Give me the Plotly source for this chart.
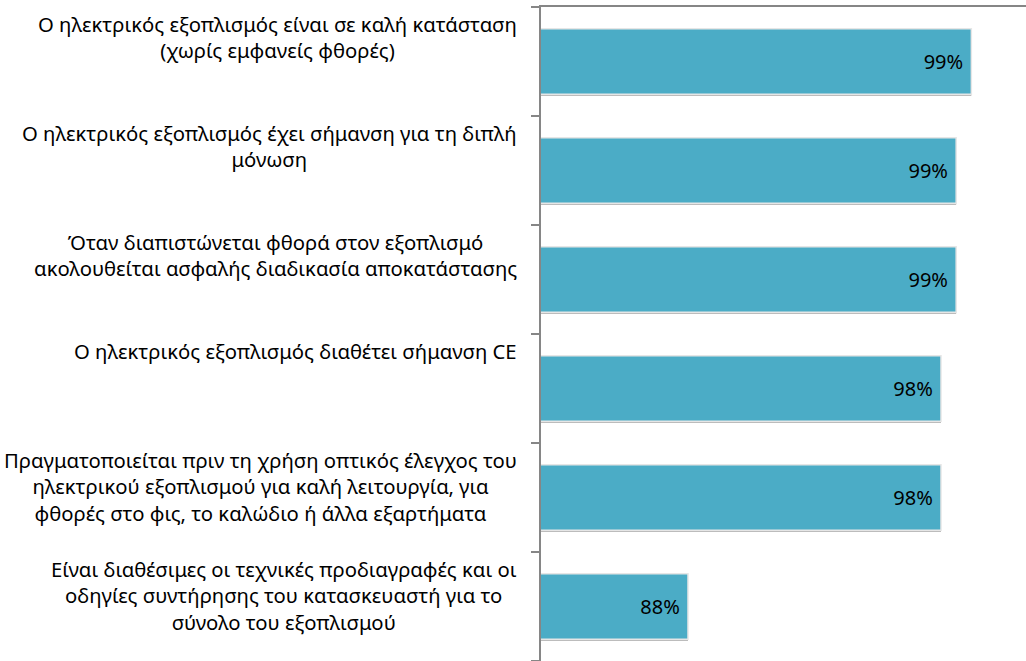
import plotly.graph_objects as go

categories = [
    "Ο ηλεκτρικός εξοπλισμός είναι σε καλή κατάσταση<br>(χωρίς εμφανείς φθορές)",
    "Ο ηλεκτρικός εξοπλισμός έχει σήμανση για τη διπλή<br>μόνωση",
    "Όταν διαπιστώνεται φθορά στον εξοπλισμό<br>ακολουθείται ασφαλής διαδικασία αποκατάστασης",
    "Ο ηλεκτρικός εξοπλισμός διαθέτει σήμανση CE",
    "Πραγματοποιείται πριν τη χρήση οπτικός έλεγχος του<br>ηλεκτρικού εξοπλισμού για καλή λειτουργία, για<br>φθορές στο φις, το καλώδιο ή άλλα εξαρτήματα",
    "Είναι διαθέσιμες οι τεχνικές προδιαγραφές και οι<br>οδηγίες συντήρησης του κατασκευαστή για το<br>σύνολο του εξοπλισμού",
]
values = [99.2, 98.6, 98.6, 98.0, 98.0, 88.0]
positions = list(range(len(categories)))

BAR = "#4BACC6"
AXIS = "#868686"
FONT = "Noto Sans"

fig = go.Figure()

# shadow under each bar
fig.add_trace(go.Bar(
    x=values, y=positions, orientation="h",
    marker=dict(color="#a6a6a6", line=dict(width=0)),
    width=0.6, offset=-0.285,
    hoverinfo="skip", showlegend=False,
))
fig.add_trace(go.Bar(
    x=values, y=positions, orientation="h",
    marker=dict(color=BAR, line=dict(color="#e6e6e6", width=1.5)),
    width=0.6, offset=-0.3,
    texttemplate="%{x:.0f}%\u00a0", textposition="inside", insidetextanchor="end",
    textangle=0, constraintext="none",
    textfont=dict(family=FONT, size=20, color="black"),
    showlegend=False,
))

# category labels sit at the top of each band
for pos, label in zip(positions, categories):
    fig.add_annotation(
        x=0, xref="paper", xanchor="right", xshift=-22,
        y=pos, yref="y", yanchor="top", yshift=54,
        text=label, showarrow=False, align="center",
        font=dict(family=FONT, size=20.3, color="black"),
    )

fig.update_layout(
    width=1026, height=661,
    margin=dict(l=541, r=0, t=7, b=0),
    paper_bgcolor="white", plot_bgcolor="white",
    barmode="overlay",
    xaxis=dict(
        range=[82.19, 101.36], side="top",
        showline=True, linecolor=AXIS, linewidth=2,
        showticklabels=False, ticks="", showgrid=False, zeroline=False,
    ),
    yaxis=dict(
        range=[5.5, -0.5],
        showline=True, linecolor=AXIS, linewidth=2,
        tickvals=[p - 0.5 for p in positions] + [5.5], ticks="outside",
        ticklen=8, tickcolor=AXIS, tickwidth=2,
        showticklabels=False, showgrid=False, zeroline=False,
    ),
)

fig.write_html("out.html", config={"displayModeBar": False},
               post_script="document.body.style.margin='0';")
